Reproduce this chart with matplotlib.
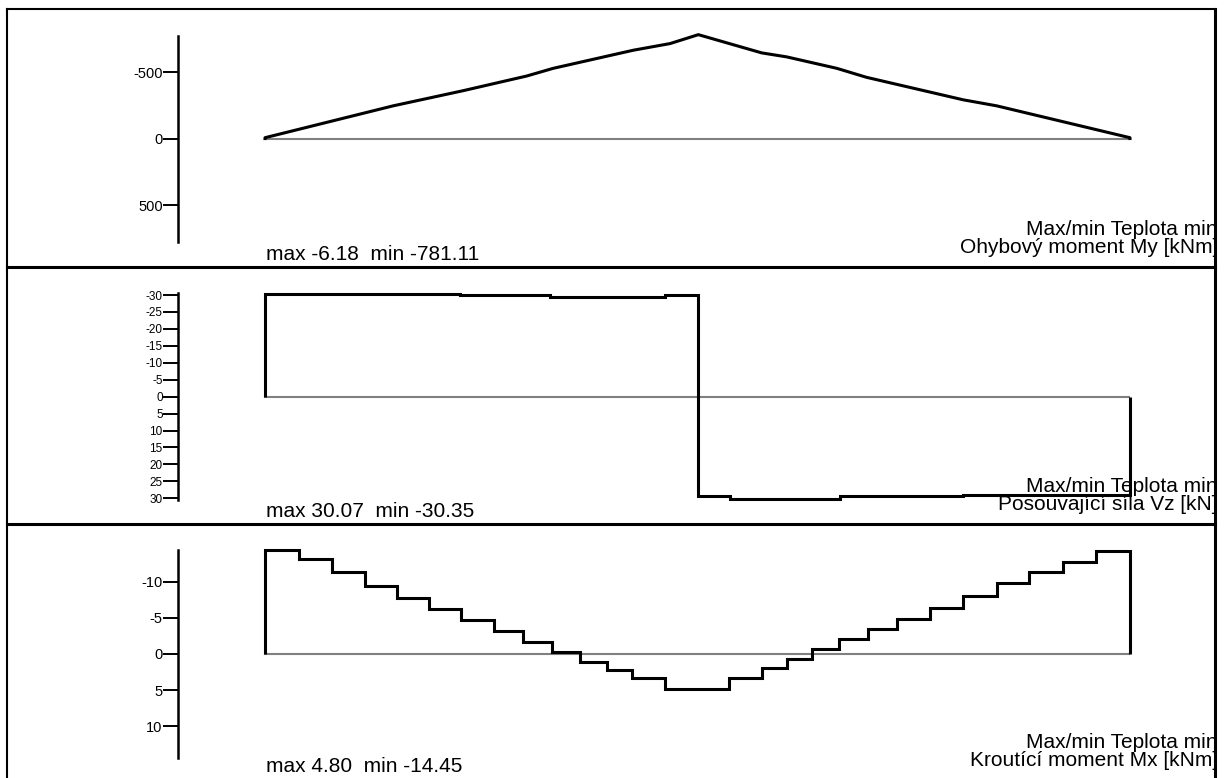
import numpy as np
import matplotlib.pyplot as plt

plt.rcParams['font.family'] = ['Liberation Sans', 'DejaVu Sans']
plt.rcParams['axes.unicode_minus'] = False

# beam length [m]
L = 52.0

# Ohybovy moment My [kNm] - polyline points along the beam
my_x = [0.0, 7.71, 11.92, 15.73, 17.33, 22.14, 24.35, 26.05, 29.86, 31.36, 34.37, 36.17, 41.98, 43.98, 52.0]
my_val = [-6.18, -246, -360, -470, -528, -664, -714, -781.11, -644, -614, -528, -460, -291, -246, -6.18]

# Posouvajici sila Vz [kN] - constant per segment
vz_edges = [0.0, 11.72, 17.13, 24.05, 26.05, 27.96, 34.57, 41.98, 52.0]
vz_val = [-30.35, -29.9, -29.3, -29.9, 29.4, 30.07, 29.4, 29.0]

# Krouticí moment Mx [kNm] - constant per segment
mx_edges = [0.0, 2.04, 4.01, 6.01, 7.92, 9.86, 11.78, 13.77, 15.49, 17.24, 18.94, 20.56, 22.09, 24.05,
            27.91, 29.90, 31.40, 32.90, 34.51, 36.27, 37.98, 39.98, 41.98, 43.99, 45.95, 47.96, 49.96, 52.0]
mx_val = [-14.45, -13.12, -11.40, -9.46, -7.71, -6.27, -4.67, -3.23, -1.70, -0.24, 1.11, 2.24, 3.35, 4.80,
          3.28, 1.90, 0.73, -0.65, -2.04, -3.42, -4.85, -6.33, -8.03, -9.79, -11.40, -12.78, -14.27]

ticks_my = [-500, 0, 500]
ticks_vz = list(range(-30, 31, 5))
ticks_mx = [-10, -5, 0, 5, 10]

stats = ["max -6.18  min -781.11", "max 30.07  min -30.35", "max 4.80  min -14.45"]
case = "Max/min Teplota min"
titles = ["Ohybový moment My [kNm]", "Posouvající síla Vz [kN]", "Kroutící moment Mx [kNm]"]

W, H = 1225, 778
fig = plt.figure(figsize=(W / 100, H / 100), dpi=100)

# frame / text layer in pixel coordinates, clipped at the right border
fr = fig.add_axes([0, 0, 1215 / W, 1])
fr.set_xlim(0, 1215)
fr.set_ylim(H, 0)
fr.axis('off')
fr.plot([7, 7], [9, H], color='black', lw=1.5, clip_on=False)
fr.plot([7, 1215], [9, 9], color='black', lw=1.5, clip_on=False)
fr.plot([1214.5, 1214.5], [9, H], color='black', lw=2.2, clip_on=False)
for yd in [266.5, 523.5]:
    fr.plot([7, 1215], [yd, yd], color='black', lw=2.2, clip_on=False)

# panel layout in pixels: (axis top, axis bottom, ylim low, ylim high, text base y)
x_axis, x_beg, x_end = 178, 265, 1130
px_per_m = (x_end - x_beg) / L
panels = [
    (36, 242, 778, -771, 266.5, ticks_my, 10.5),
    (293, 500, 30.5, -30.6, 523.5, ticks_vz, 8.5),
    (550, 757.7, 14.37, -14.41, 779, ticks_mx, 10.5),
]

axes = []
for top, bot, ylo, yhi, base, ticks, tfs in panels:
    ax = fig.add_axes([x_axis / W, 1 - bot / H, (x_end - x_axis) / W, (bot - top) / H])
    ax.set_facecolor('none')
    ax.set_xlim(-(x_beg - x_axis) / px_per_m, L)
    ax.set_ylim(ylo, yhi)
    for s in ['top', 'right', 'bottom']:
        ax.spines[s].set_visible(False)
    ax.spines['left'].set_linewidth(1.8)
    ax.set_xticks([])
    ax.set_yticks(ticks)
    ax.set_yticklabels([str(t) for t in ticks])
    ax.tick_params(axis='y', length=11, width=1.4, pad=0, labelsize=tfs)
    ax.plot([0, L], [0, 0], color='#808080', lw=1.5, zorder=1)
    axes.append(ax)

# diagrams
axes[0].plot([0] + my_x + [L], [0] + my_val + [0], color='black', lw=2.2, clip_on=False, zorder=3)
axes[1].stairs(vz_val, vz_edges, baseline=0, color='black', lw=2.2, clip_on=False, zorder=3)
axes[2].stairs(mx_val, mx_edges, baseline=0, color='black', lw=2.2, clip_on=False, zorder=3)

for i, (top, bot, ylo, yhi, base, ticks, tfs) in enumerate(panels):
    fr.text(266, base - 6.5, stats[i], fontsize=15, ha='left', va='baseline')
    fr.text(1218, base - 31.5, case, fontsize=15, ha='right', va='baseline', clip_on=True)
    fr.text(1218, base - 13.5, titles[i], fontsize=15, ha='right', va='baseline', clip_on=True)

fig.savefig('out.png', dpi=100)
